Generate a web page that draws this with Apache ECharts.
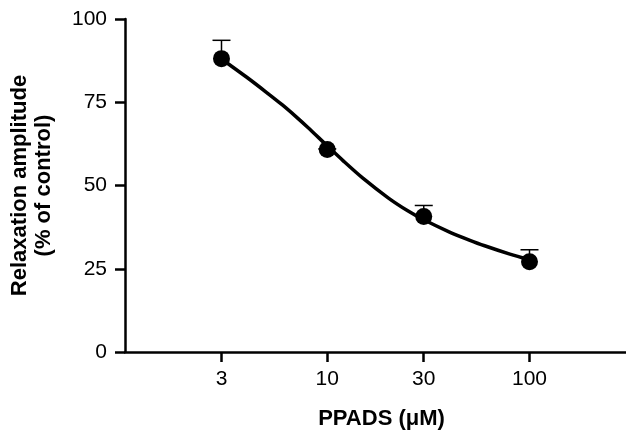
<!DOCTYPE html>
<html>
<head>
<meta charset="utf-8">
<script src="https://cdn.jsdelivr.net/npm/echarts@6/dist/echarts.min.js"></script>
<style>html,body{margin:0;padding:0;background:#fff}#c{width:626px;height:435px}</style>
</head>
<body>
<div id="c"></div>
<script>
// Data
const concentrations = [3, 10, 30, 100];           // PPADS (µM)
const meanValues = [88.1, 60.8, 40.7, 27.1];       // % of control
const errorTops = [93.6, 61.0, 44.0, 30.7];        // mean + SEM
// fitted curve
const fitX = [3, 4, 5, 6, 7, 8, 10, 12, 15, 20, 25, 30, 40, 50, 60, 80, 100];
const fitY = [88.0, 82.5, 78.0, 74.2, 70.7, 67.5, 61.9, 57.4, 52.2, 46.3, 42.4, 39.7, 36.1, 33.7, 31.9, 29.4, 27.7];
const xTickValues = [3, 10, 30, 100];
const yTickValues = [0, 25, 50, 75, 100];

const chart = echarts.init(document.getElementById('c'), null, {renderer: 'canvas'});
const font = 'Liberation Sans, Arial, Helvetica, sans-serif';

const option = {
  animation: false,
  backgroundColor: '#fff',
  grid: {left: 125, right: 0, top: 19, bottom: 80, containLabel: false},
  xAxis: {
    type: 'log', logBase: 10, min: 1, max: 300,
    name: 'PPADS (\u03bcM)',
    nameLocation: 'middle', nameGap: 56,
    nameTextStyle: {fontFamily: font, fontWeight: 'bold', fontSize: 22, color: '#000', padding: [0, 0, 0, 12]},
    axisLine: {lineStyle: {color: '#000', width: 2.5}},
    axisTick: {show: true, length: 10, lineStyle: {color: '#000', width: 2.5}, customValues: xTickValues},
    axisLabel: {fontFamily: font, fontSize: 21, color: '#000', margin: 17, customValues: xTickValues, formatter: v => String(v)},
    splitLine: {show: false},
    minorTick: {show: false}
  },
  yAxis: {
    type: 'value', min: 0, max: 100, interval: 25,
    name: 'Relaxation amplitude\n(% of control)',
    nameLocation: 'middle', nameGap: 69, nameRotate: 90,
    nameTextStyle: {fontFamily: font, fontWeight: 'bold', fontSize: 22, color: '#000', lineHeight: 24, align: 'center'},
    axisLine: {show: true, lineStyle: {color: '#000', width: 2.5}},
    axisTick: {show: true, length: 10, lineStyle: {color: '#000', width: 2.5}},
    axisLabel: {fontFamily: font, fontSize: 21, color: '#000', margin: 18},
    splitLine: {show: false}
  },
  series: [
    {
      type: 'custom',
      z: 2,
      data: concentrations.map((c, i) => [c, meanValues[i], errorTops[i]]),
      renderItem: function (params, api) {
        const p = api.coord([api.value(0), api.value(1)]);
        const t = api.coord([api.value(0), api.value(2)]);
        const hw = 9;
        return {
          type: 'group',
          children: [
            {type: 'line', shape: {x1: p[0], y1: p[1], x2: t[0], y2: t[1]}, style: {stroke: '#000', lineWidth: 1.5}},
            {type: 'line', shape: {x1: t[0] - hw, y1: t[1], x2: t[0] + hw, y2: t[1]}, style: {stroke: '#000', lineWidth: 1.5}}
          ]
        };
      }
    },
    {
      type: 'line',
      z: 3,
      data: fitX.map((x, i) => [x, fitY[i]]),
      smooth: 0.3,
      showSymbol: false,
      lineStyle: {color: '#000', width: 3.5}
    },
    {
      type: 'scatter',
      z: 4,
      data: concentrations.map((c, i) => [c, meanValues[i]]),
      symbol: 'circle',
      symbolSize: 17,
      itemStyle: {color: '#000', opacity: 1}
    }
  ]
};
chart.setOption(option);
</script>
</body>
</html>
